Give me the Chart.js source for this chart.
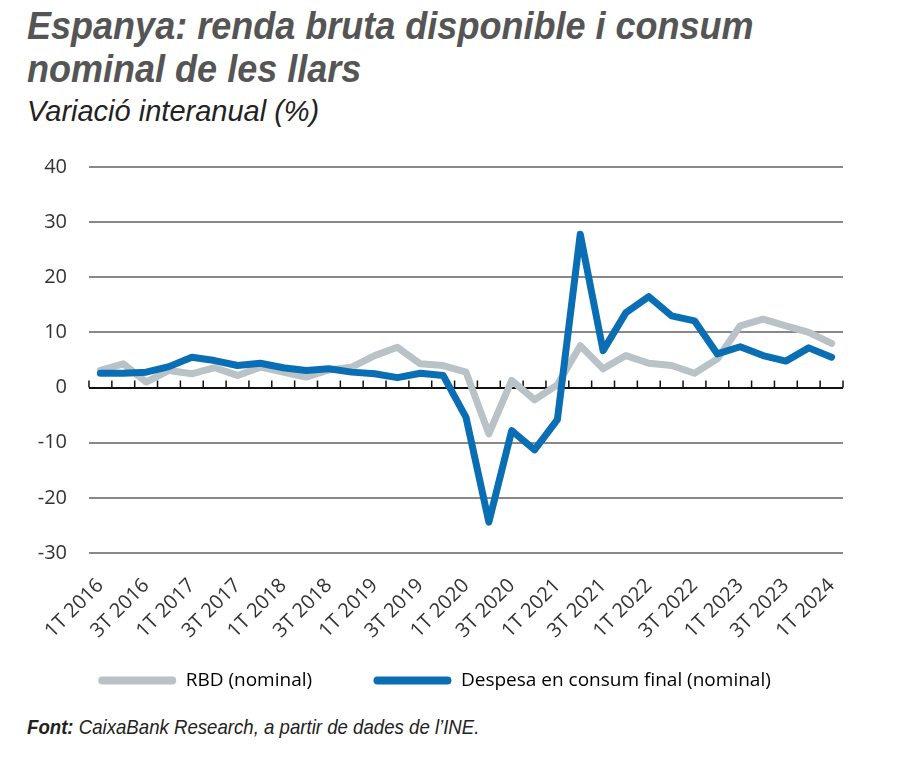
<!DOCTYPE html>
<html>
<head>
<meta charset="utf-8">
<script src="https://cdn.jsdelivr.net/npm/chart.js@4.4.1/dist/chart.umd.min.js"></script>
<style>
body { margin: 0; background: #fff; width: 900px; height: 758px; position: relative; overflow: hidden; }
#title { position: absolute; left: 27px; top: 5px; font: italic bold 38px 'Liberation Sans', sans-serif; color: #555; line-height: 43px; transform: scaleX(0.948); transform-origin: 0 0; white-space: nowrap; }
#subtitle { position: absolute; left: 27px; top: 95px; font: italic 29px 'Liberation Sans', sans-serif; color: #222; white-space: nowrap; }
#box { position: absolute; left: 0; top: 133px; width: 900px; height: 567px; }
#source { position: absolute; left: 27px; top: 715px; font: italic 21px 'Liberation Sans', sans-serif; color: #222; transform: scaleX(0.887); transform-origin: 0 0; white-space: nowrap; }
#source b { font-weight: bold; }
</style>
</head>
<body>
<div id="title">Espanya: renda bruta disponible i consum<br>nominal de les llars</div>
<div id="subtitle">Variació interanual (%)</div>
<div id="box"><canvas id="chart"></canvas></div>
<div id="source"><b>Font:</b> CaixaBank Research, a partir de dades de l’INE.</div>
<script>
const quarters = ['1T', '2T', '3T', '4T'];
const categories = [];
for (let y = 2016; y <= 2024; y++) {
    for (const q of quarters) {
        if (y === 2024 && q !== '1T') break;
        categories.push(q + ' ' + y);
    }
}

// RBD (nominal), % interanual
const rbd = [3.1, 4.3, 1.0, 3.1, 2.5, 3.6, 2.2, 3.7, 2.8, 1.9, 3.2, 3.7, 5.8, 7.3, 4.3, 4.0,
    2.8, -8.4, 1.3, -2.2, 0.5, 7.6, 3.4, 5.8, 4.4, 4.0, 2.6, 5.2, 11.2, 12.4, 11.2, 10.0, 8.0];
// Despesa en consum final (nominal)
const consum = [2.6, 2.6, 2.8, 3.8, 5.5, 4.9, 4.0, 4.4, 3.6, 3.1, 3.4, 2.8, 2.5, 1.8, 2.6, 2.2,
    -5.4, -24.4, -7.8, -11.3, -5.8, 27.8, 6.7, 13.6, 16.5, 13.0, 12.1, 6.1, 7.4, 5.8, 4.8, 7.2, 5.5];

const yTicks = [-30, -20, -10, 0, 10, 20, 30, 40];

const grey = '#b9c2c6';
const blue = '#0a6eb4';

// small tick marks sitting on the zero line, one per quarter boundary
const zeroTicks = {
    id: 'zeroTicks',
    beforeDatasetsDraw(chart) {
        const x = chart.scales.x, y = chart.scales.y;
        const step = x.getPixelForValue(1) - x.getPixelForValue(0);
        const y0 = y.getPixelForValue(0);
        const ctx = chart.ctx;
        ctx.save();
        ctx.strokeStyle = '#111';
        ctx.lineWidth = 1.5;
        ctx.beginPath();
        for (let i = 0; i <= categories.length; i++) {
            const px = x.getPixelForValue(i) - step / 2;
            ctx.moveTo(px, y0);
            ctx.lineTo(px, y0 - 7);
        }
        ctx.stroke();
        ctx.restore();
    }
};

new Chart(document.getElementById('chart'), {
    type: 'line',
    data: {
        labels: categories,
        datasets: [{
            label: 'RBD (nominal)',
            data: rbd,
            borderColor: grey,
            backgroundColor: grey,
            borderWidth: 7,
            order: 2
        }, {
            label: 'Despesa en consum final (nominal)',
            data: consum,
            borderColor: blue,
            backgroundColor: blue,
            borderWidth: 7,
            order: 1
        }]
    },
    options: {
        animation: false,
        responsive: true,
        maintainAspectRatio: false,
        devicePixelRatio: 1,
        elements: {
            point: { radius: 0 },
            line: { tension: 0, borderJoinStyle: 'round', borderCapStyle: 'round' }
        },
        layout: { padding: { left: 26, right: 57, top: 18, bottom: 0 } },
        scales: {
            x: {
                offset: true,
                grid: { display: false },
                border: { display: false },
                ticks: {
                    autoSkip: false,
                    minRotation: 45,
                    maxRotation: 45,
                    padding: 13,
                    color: '#333',
                    font: { family: 'Open Sans', size: 20 },
                    callback: (v, i) => i % 2 === 0 ? categories[i] : ''
                },
                afterFit: s => { s.height = 106; }
            },
            y: {
                min: -30,
                max: 40,
                afterBuildTicks: s => { s.ticks = yTicks.map(v => ({ value: v })); },
                grid: {
                    drawTicks: false,
                    color: c => c.tick.value === 0 ? '#111' : '#888',
                    lineWidth: 2
                },
                border: { display: false },
                ticks: {
                    padding: 22,
                    color: '#333',
                    font: { family: 'Open Sans', size: 20 }
                },
                afterFit: s => { s.width = 63; }
            }
        },
        plugins: {
            tooltip: { enabled: false },
            legend: {
                position: 'bottom',
                labels: {
                    boxWidth: 78,
                    boxHeight: 8,
                    padding: 12,
                    color: '#222',
                    font: { family: 'Open Sans', size: 19 },
                    // trailing spaces widen the gap between the two legend entries
                    generateLabels: chart => chart.data.datasets.map((d, i) => ({
                        text: i === 0 ? d.label + '          ' : d.label,
                        fillStyle: d.borderColor,
                        strokeStyle: d.borderColor,
                        lineWidth: 0,
                        borderRadius: 4,
                        datasetIndex: i,
                        hidden: false
                    }))
                }
            }
        }
    },
    plugins: [zeroTicks]
});
</script>
</body>
</html>
